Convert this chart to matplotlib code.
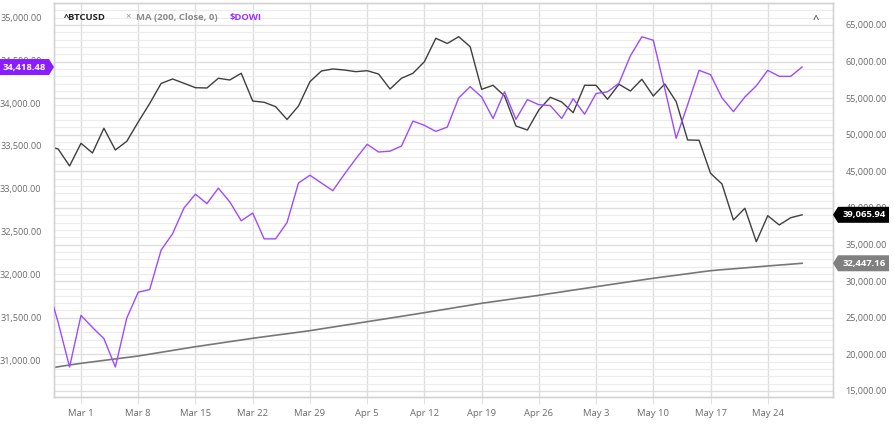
import matplotlib
matplotlib.use("Agg")
import matplotlib.pyplot as plt
from matplotlib.patches import Polygon
from matplotlib.ticker import FuncFormatter, MultipleLocator
from matplotlib.transforms import IdentityTransform

plt.rcParams["font.family"] = ["Open Sans", "DejaVu Sans"]

# trading-day index, 0 = Mon Mar 1 2021 (Feb 24 .. May 27)
DAYS = list(range(-3, 64))
TICK_POS = [0, 5, 10, 15, 20, 25, 30, 35, 40, 45, 50, 55, 60]
TICK_LABELS = ["Mar 1", "Mar 8", "Mar 15", "Mar 22", "Mar 29", "Apr 5", "Apr 12",
               "Apr 19", "Apr 26", "May 3", "May 10", "May 17", "May 24"]

BTC = [48520, 48060, 45740, 48840, 47510, 50890, 47920, 49110, 51750, 54270,
       57010, 57620, 57030, 56430, 56390, 57720, 57480, 58400, 54610, 54440,
       53840, 52090, 53930, 57250, 58710, 58990, 58850, 58620, 58750, 58300,
       56250, 57720, 58400, 59980, 63180, 62470, 63400, 62030, 56210, 56760,
       55300, 51200, 50650, 53390, 55120, 54480, 53020, 56760, 56760, 54850,
       56900, 55980, 57580, 55300, 56940, 54520, 49290, 49250, 44740, 43280,
       38360, 39960, 35390, 38950, 37680, 38670, 39065.94]

MA200 = [18070, 18310, 18550, 18780, 18980, 19180, 19380, 19580, 19780, 20030,
         20290, 20540, 20800, 21050, 21280, 21510, 21740, 21970, 22200, 22410,
         22620, 22820, 23030, 23240, 23490, 23730, 23980, 24220, 24470, 24710,
         24960, 25200, 25450, 25700, 25960, 26210, 26470, 26720, 26980, 27200,
         27420, 27640, 27850, 28070, 28310, 28540, 28780, 29010, 29250, 29480,
         29710, 29940, 30170, 30400, 30610, 30810, 31020, 31230, 31430, 31570,
         31690, 31820, 31950, 32080, 32200, 32320, 32447.16]

DOWI = [31910, 31450, 30930, 31530, 31390, 31260, 30930, 31500, 31800, 31830,
        32290, 32480, 32780, 32940, 32830, 33010, 32850, 32630, 32720, 32420,
        32420, 32610, 33070, 33160, 33070, 32980, 33170, 33350, 33520, 33430,
        33440, 33500, 33790, 33740, 33670, 33720, 34060, 34190, 34070, 33820,
        34130, 33810, 34040, 33980, 33970, 33820, 34050, 33870, 34110, 34130,
        34230, 34550, 34770, 34730, 34170, 33590, 33980, 34380, 34330, 34060,
        33900, 34070, 34200, 34380, 34310, 34310, 34418.48]

W, H = 894, 429
BTC_COLOR = "#3f3f3f"
MA_COLOR = "#777777"
DOW_COLOR = "#9d4cff"
TAG_PURPLE = "#8a1cff"
TICK_COLOR = "#6b6b6b"

fig = plt.figure(figsize=(W / 100, H / 100), dpi=100)
ax = fig.add_axes([54 / W, (H - 397) / H, 779 / W, 394 / H])
ax_l = ax.twinx()

ax.set_xlim(-2.36, 65.7)
ax.set_ylim(14180, 68000)
ax_l.set_ylim(30581, 35163)

# grid on the main (right-value) axis so it stays behind everything
ax.yaxis.set_major_locator(MultipleLocator(5000))
ax.yaxis.set_minor_locator(MultipleLocator(1000))
ax.set_xticks(TICK_POS)
ax.set_xticklabels(TICK_LABELS)
ax.grid(which="major", axis="both", color="#dedede", linewidth=1.0)
ax.grid(which="minor", axis="y", color="#ececec", linewidth=0.8)
ax.set_axisbelow(True)

ax.plot(DAYS, MA200, color=MA_COLOR, linewidth=1.2, zorder=2)
ax.plot(DAYS, BTC, color=BTC_COLOR, linewidth=1.0, zorder=3)
ax_l.plot(DAYS, DOWI, color=DOW_COLOR, linewidth=1.0, zorder=3)

fmt = FuncFormatter(lambda v, _: f"{v:,.2f}")
ax.yaxis.set_major_formatter(fmt)
ax.yaxis.tick_right()
ax_l.yaxis.tick_left()
ax_l.yaxis.set_major_locator(MultipleLocator(500))
ax_l.yaxis.set_major_formatter(fmt)

ax.tick_params(axis="x", length=5, color="#e2e2e2", pad=4, labelsize=6.8, labelcolor=TICK_COLOR)
ax.tick_params(axis="y", which="both", length=0, pad=9, labelsize=6.6, labelcolor=TICK_COLOR)
ax_l.tick_params(axis="y", length=0, pad=9, labelsize=6.6, labelcolor=TICK_COLOR)
ax.tick_params(axis="y", which="both", labelleft=False, labelright=True)
ax_l.tick_params(axis="y", labelleft=True, labelright=False)

for axis in (ax, ax_l):
    for name, spine in axis.spines.items():
        spine.set_color("#d4d4d4")
        spine.set_linewidth(1.0)

# legend line at the top
legend = [("^BTCUSD", 64, "#222222", "bold"),
          ("×", 125, "#888888", "normal"),
          ("MA (200, Close, 0)", 136, "#8a8a8a", "bold"),
          ("$DOWI", 230, "#9a33ff", "bold")]
for text, px, color, weight in legend:
    fig.text(px / W, 1 - 17 / H, text, color=color, fontsize=6.8, fontweight=weight,
             ha="left", va="center")
fig.text(816 / W, 1 - 20 / H, "^", color="#333333", fontsize=8, ha="center", va="center")


def tag(axis, value, face, side):
    y = axis.transData.transform((0, value))[1]
    half = 8
    if side == "right":
        x0 = ax.bbox.x1
        pts = [(x0, y), (x0 + 5, y + half), (x0 + 56, y + half), (x0 + 56, y - half), (x0 + 5, y - half)]
        tx = x0 + 31
    else:
        x0 = ax.bbox.x0
        pts = [(x0, y), (x0 - 5, y + half), (0, y + half), (0, y - half), (x0 - 5, y - half)]
        tx = (x0 - 5) / 2
    fig.add_artist(Polygon(pts, closed=True, facecolor=face, edgecolor="none",
                           transform=IdentityTransform(), zorder=5))
    fig.text(tx, y, f"{value:,.2f}", transform=IdentityTransform(), color="white",
             fontsize=6.8, fontweight="bold", ha="center", va="center", zorder=6)


tag(ax_l, DOWI[-1], TAG_PURPLE, "left")
tag(ax, BTC[-1], "#000000", "right")
tag(ax, MA200[-1], "#808080", "right")

fig.savefig("out.png", dpi=100)
